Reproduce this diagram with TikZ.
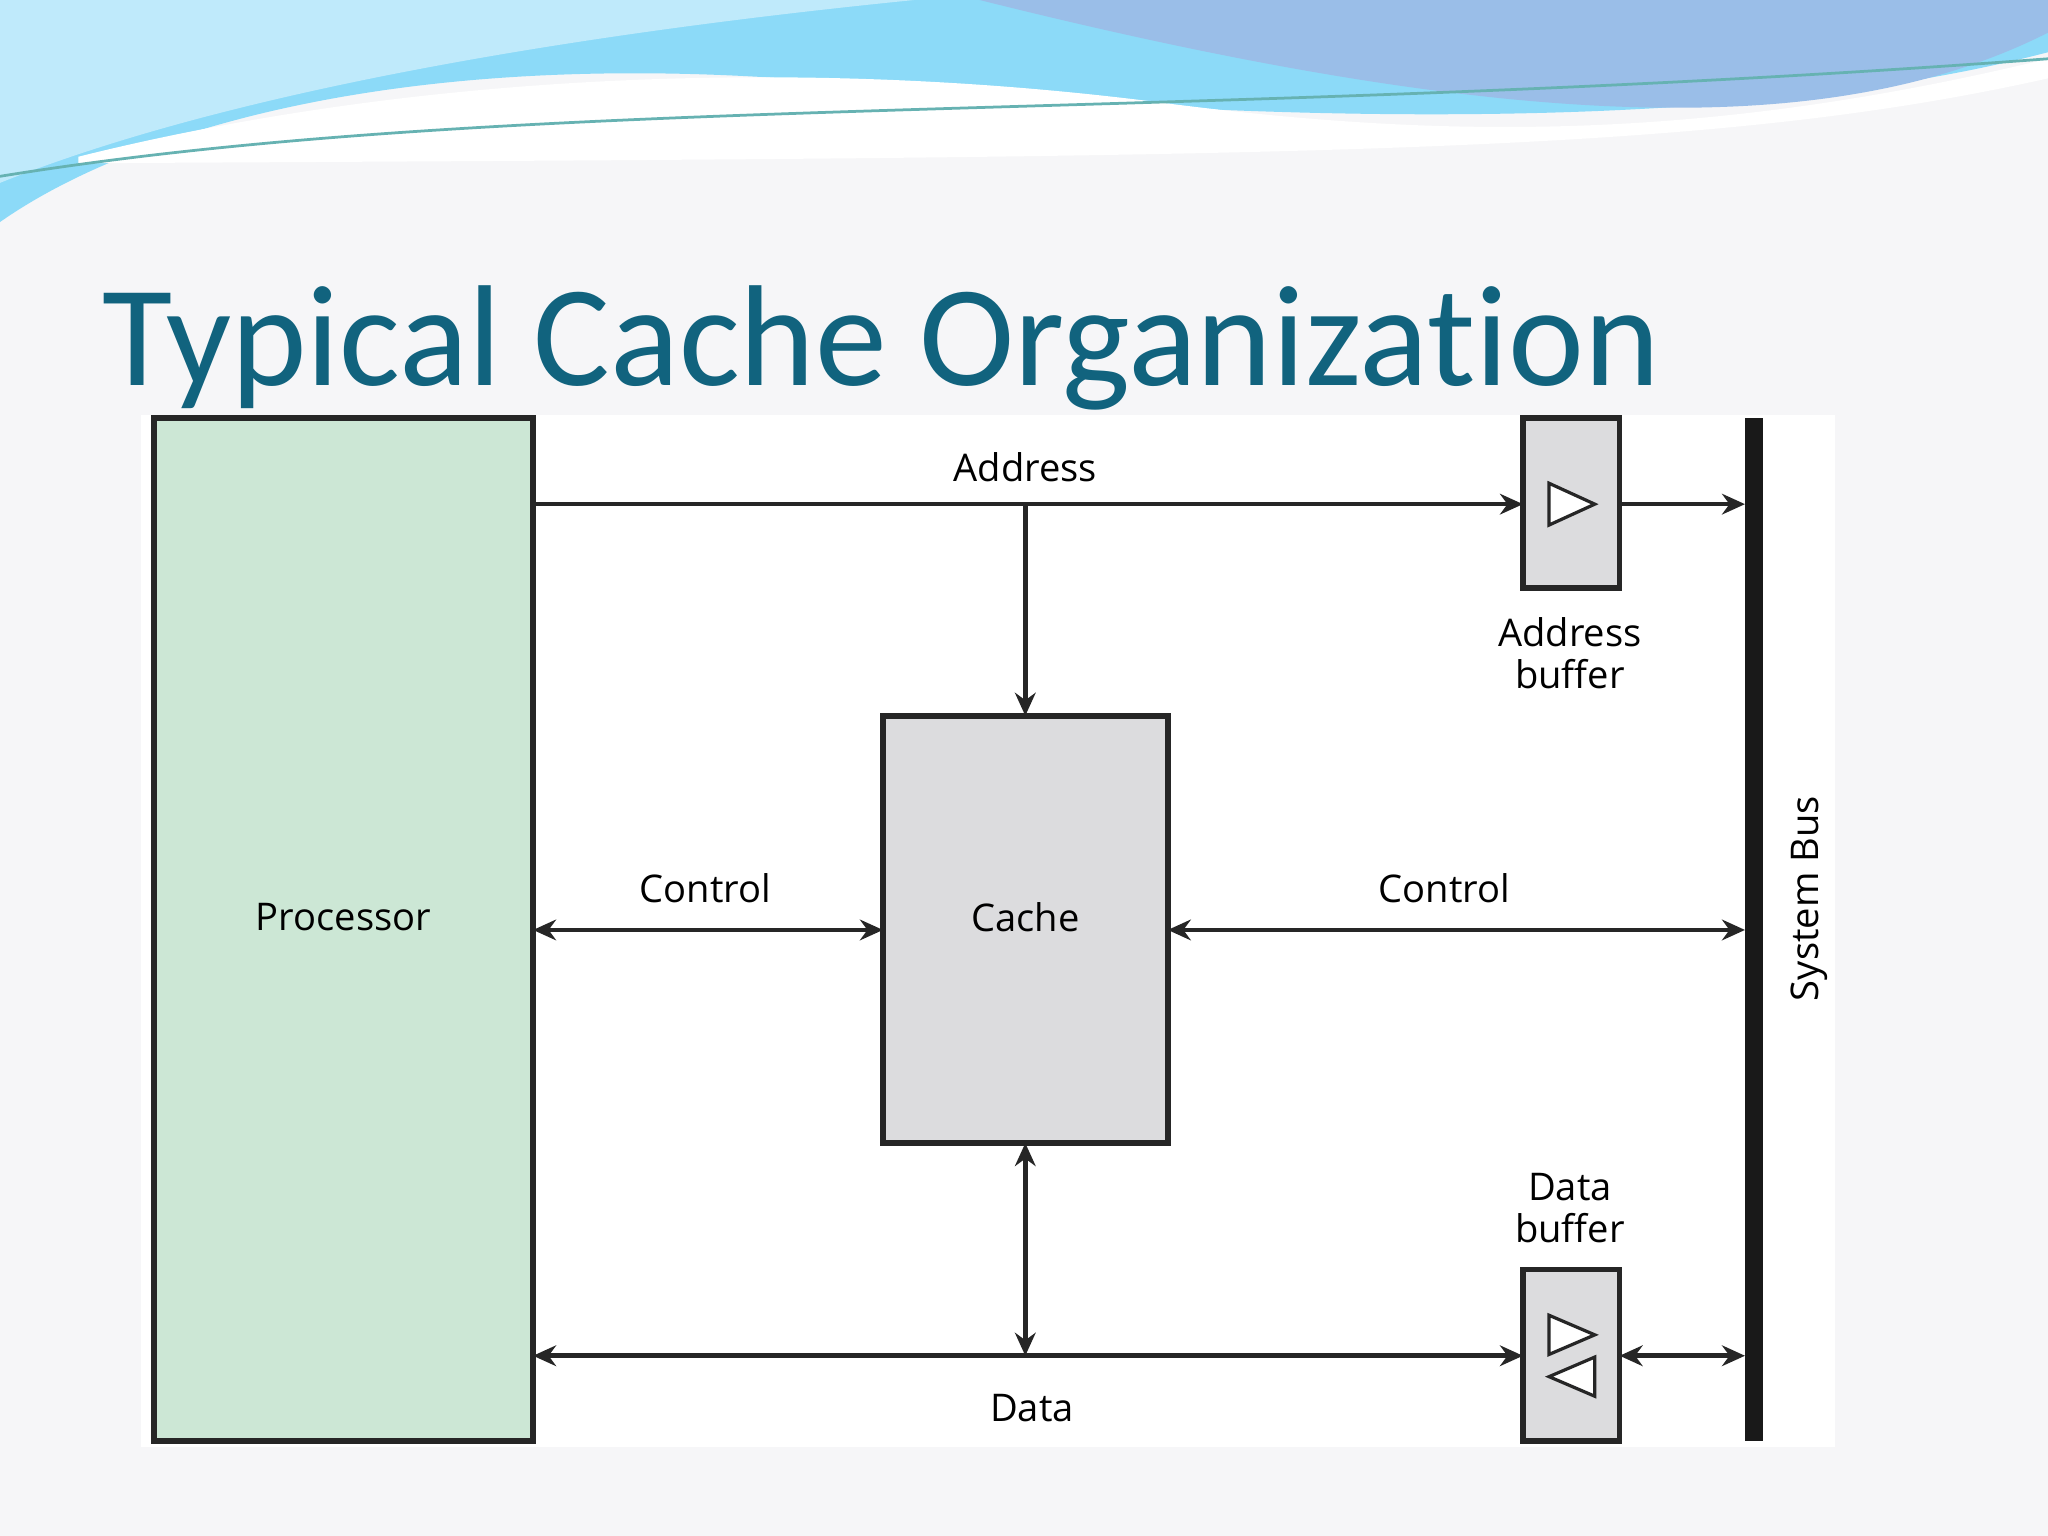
\documentclass[tikz,border=0pt]{standalone}
\usepackage{fontspec}
\setmainfont{Carlito}[Ligatures=NoCommon]
\newfontfamily\diagfont{Open Sans}
\usetikzlibrary{arrows.meta}
\definecolor{titleblue}{HTML}{11637E}
\definecolor{procgreen}{HTML}{CCE7D5}
\definecolor{boxgray}{HTML}{DCDCDE}
\definecolor{pagebg}{HTML}{F6F6F8}
\begin{document}
\begin{tikzpicture}[x=0.01cm,y=-0.01cm,
    font=\diagfont\fontsize{8.3}{10}\selectfont,
    block/.style={draw=black!85,line width=1.2pt,inner sep=0pt,outer sep=0pt},
    line/.style={line width=1pt,black!85},
    arr/.style={line,-{Stealth[length=5pt,width=4.5pt]}},
    darr/.style={line,{Stealth[length=5pt,width=4.5pt]}-{Stealth[length=5pt,width=4.5pt]}}
]
% === Page and wave ===
\fill[pagebg] (0,0) rectangle (1568,1176);
\useasboundingbox (0,0) rectangle (1568,1176);
\fill[cyan!45] (0,0) -- (1568,0) -- (1568,40) .. controls (1300,110) and (900,90) .. (600,60) .. controls (300,40) and (100,100) .. (0,170) -- cycle;
\fill[cyan!25!white] (0,0) -- (700,0) .. controls (500,20) and (200,60) .. (0,140) -- cycle;
\fill[white] (60,120) .. controls (300,60) and (600,40) .. (900,80) .. controls (1100,105) and (1300,110) .. (1568,45) -- (1568,60) .. controls (1300,120) and (1000,120) .. (60,125) -- cycle;
\fill[cyan!60!blue!40] (750,0) -- (1568,0) -- (1568,25) .. controls (1400,110) and (1150,100) .. (750,0) -- cycle;
\draw[teal!60,line width=0.6pt] (0,135) .. controls (400,70) and (900,95) .. (1568,45);
% === Title ===
\node[anchor=base west,text=titleblue,font=\fontsize{31.3}{34}\selectfont,inner sep=0pt] (title) at (78,295) {Typical Cache Organization};
% === Diagram ===
\fill[white] (108,318) rectangle (1405,1108);
\node[block,fill=procgreen,anchor=north west,minimum width=2.9cm,minimum height=7.83cm] (P) at (118,320) {};
\node at (263,702) {Processor};
\node[block,fill=boxgray,anchor=north west,minimum width=2.18cm,minimum height=3.27cm] (C) at (676,548) {};
\node at (785,702) {Cache};
\node[block,fill=boxgray,anchor=north west,minimum width=0.74cm,minimum height=1.3cm] (AB) at (1166,320) {};
\node[block,fill=boxgray,anchor=north west,minimum width=0.74cm,minimum height=1.31cm] (DB) at (1166,972) {};
\draw[line,line width=0.7pt,fill=white] (1186,370) -- (1221,386) -- (1186,402) -- cycle;
\draw[line,line width=0.7pt,fill=white] (1186,1007) -- (1221,1022) -- (1186,1037) -- cycle;
\draw[line,line width=0.7pt,fill=white] (1221,1039) -- (1186,1054) -- (1221,1069) -- cycle;
\fill[black!90] (1336,320) rectangle (1350,1103);
\node[rotate=90] (bus) at (1385,688) {System Bus};
\coordinate (busA) at (1336,386);
\coordinate (busC) at (1336,712);
\coordinate (busD) at (1336,1038);
\coordinate (tapA) at (785,386);
\coordinate (tapD) at (785,1038);
% === Connectors ===
\draw[arr] (P.north east |- busA) -- (AB.west |- busA);
\draw[arr] (tapA) -- (tapA |- C.north);
\draw[arr] (AB.east |- busA) -- (busA);
\draw[darr] (P.east |- busC) -- (C.west |- busC);
\draw[darr] (C.east |- busC) -- (busC);
\draw[darr] (tapD |- C.south) -- (tapD);
\draw[darr] (P.east |- busD) -- (DB.west |- busD);
\draw[darr] (DB.east |- busD) -- (busD);
% === Labels ===
\node (lA) at (785,358) {Address};
\node (lC1) at (540,680) {Control};
\node (lC2) at (1106,680) {Control};
\node (lD) at (790,1078) {Data};
\node[align=center] (lAB) at (1202,500) {Address\\[-1pt]buffer};
\node[align=center] (lDB) at (1202,925) {Data\\[-1pt]buffer};
\end{tikzpicture}
\end{document}
